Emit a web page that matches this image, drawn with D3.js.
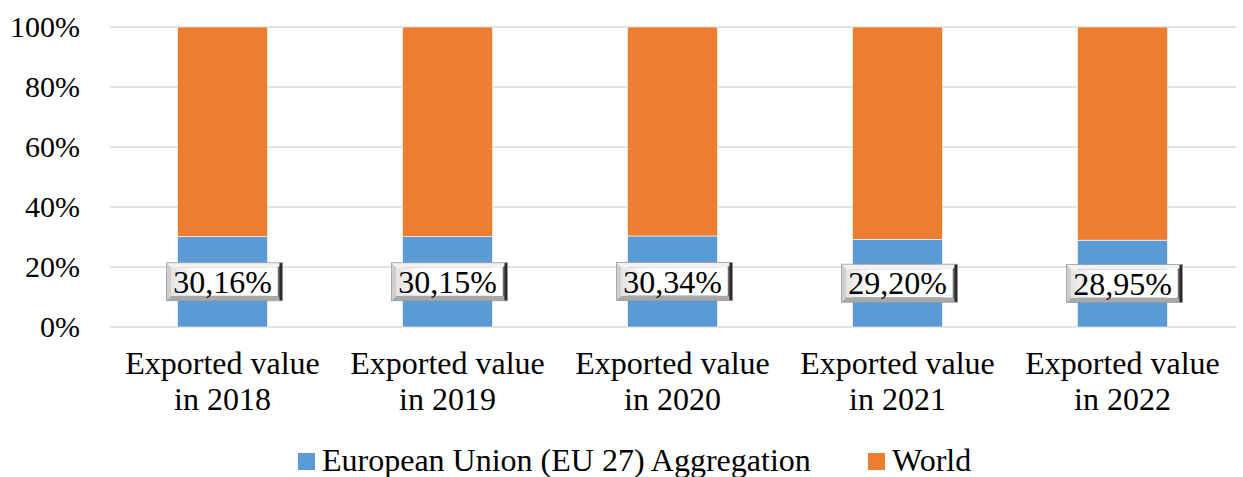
<!DOCTYPE html>
<html>
<head>
<meta charset="utf-8">
<script src="https://cdn.jsdelivr.net/npm/d3@7"></script>
<style>
  body { margin: 0; background: #fff; }
</style>
</head>
<body>
<svg id="chart" width="1243" height="477"></svg>
<script>
// datos del gráfico (porcentajes apilados)
var years = ["2018", "2019", "2020", "2021", "2022"];
var euShare = [30.16, 30.15, 30.34, 29.20, 28.95];
var worldShare = [69.84, 69.85, 69.66, 70.80, 71.05];
var yTicks = [0, 20, 40, 60, 80, 100];
var seriesNames = ["European Union (EU 27) Aggregation", "World"];
var seriesColors = ["#5b9bd5", "#ed7d31"];

var FONT = "'Liberation Serif', 'Times New Roman', Times, serif";
var svg = d3.select("#chart");
var x = d3.scaleBand().domain(years).range([110, 1235]).paddingInner(0.6).paddingOuter(0.3);
var y = d3.scaleLinear().domain([0, 100]).range([327, 27]);

// rejilla horizontal
svg.append("g").selectAll("line").data(yTicks).enter().append("line")
	.attr("x1", 110).attr("x2", 1236)
	.attr("y1", function(d) { return y(d); }).attr("y2", function(d) { return y(d); })
	.attr("stroke", "#d9d9d9").attr("stroke-width", 1.5);

// etiquetas del eje Y
svg.append("g").selectAll("text").data(yTicks).enter().append("text")
	.attr("x", 80).attr("y", function(d) { return y(d); })
	.attr("dy", "0.34em").attr("text-anchor", "end")
	.attr("font-family", FONT).attr("font-size", 30)
	.text(function(d) { return d + "%"; });

// barras apiladas
var rows = years.map(function(yr, i) { return {year: yr, eu: euShare[i], world: worldShare[i]}; });
var stack = d3.stack().keys(["eu", "world"])(rows);
svg.append("g").selectAll("g").data(stack).enter().append("g")
	.attr("fill", function(d, i) { return seriesColors[i]; })
	.selectAll("rect").data(function(d) { return d; }).enter().append("rect")
	.attr("x", function(d) { return x(d.data.year); })
	.attr("width", x.bandwidth())
	.attr("y", function(d) { return y(d[1]); })
	.attr("height", function(d) { return y(d[0]) - y(d[1]); })
	.attr("stroke", "#fff").attr("stroke-width", 0.6);

// etiquetas biseladas
var defs = svg.append("defs");
var face = defs.append("linearGradient").attr("id", "face").attr("x1", 0).attr("y1", 0).attr("x2", 1).attr("y2", 0);
face.append("stop").attr("offset", "0%").attr("stop-color", "#e4e4e4");
face.append("stop").attr("offset", "25%").attr("stop-color", "#ffffff");
face.append("stop").attr("offset", "100%").attr("stop-color", "#ffffff");

var bw = 116, bh = 38, bev = 5;
var labels = svg.append("g").selectAll("g").data(rows).enter().append("g")
	.attr("transform", function(d) {
		return "translate(" + (x(d.year) + x.bandwidth() / 2 - bw / 2 + 2) + "," + (y(d.eu / 2) - bh / 2) + ")";
	});
labels.append("polygon").attr("fill", "#f2f2f2")
	.attr("points", [[0,0],[bw,0],[bw-bev,bev],[bev,bev]].join(" "));
labels.append("polygon").attr("fill", "#cfcfcf")
	.attr("points", [[0,0],[bev,bev],[bev,bh-bev],[0,bh]].join(" "));
labels.append("polygon").attr("fill", "#a8a8a8")
	.attr("points", [[0,bh],[bev,bh-bev],[bw-bev,bh-bev],[bw,bh]].join(" "));
labels.append("polygon").attr("fill", "#6e6e6e")
	.attr("points", [[bw,0],[bw,bh],[bw-bev,bh-bev],[bw-bev,bev]].join(" "));
labels.append("rect").attr("x", bw - 3).attr("y", 0).attr("width", 3).attr("height", bh).attr("fill", "#2a2a2a");
labels.append("rect").attr("x", 0).attr("y", 0).attr("width", bw).attr("height", bh)
	.attr("fill", "none").attr("stroke", "#9a9a9a").attr("stroke-width", 0.8);
labels.append("rect").attr("x", bev).attr("y", bev).attr("width", bw - 2 * bev).attr("height", bh - 2 * bev)
	.attr("fill", "url(#face)");
labels.append("text")
	.attr("x", bw / 2 - 2).attr("y", bh / 2).attr("dy", "0.35em")
	.attr("text-anchor", "middle").attr("font-family", FONT).attr("font-size", 32)
	.text(function(d) { return d.eu.toFixed(2).replace(".", ",") + "%"; });

// etiquetas del eje X (dos líneas)
var xl = svg.append("g").selectAll("text").data(years).enter().append("text")
	.attr("text-anchor", "middle").attr("font-family", FONT).attr("font-size", 32)
	.attr("transform", function(d) { return "translate(" + (x(d) + x.bandwidth() / 2) + ",0)"; });
xl.append("tspan").attr("x", 0).attr("y", 374).text("Exported value");
xl.append("tspan").attr("x", 0).attr("y", 410).text(function(d) { return "in " + d; });

// leyenda
var legendX = [298, 868];
var lg = svg.append("g").selectAll("g").data(seriesNames).enter().append("g")
	.attr("transform", function(d, i) { return "translate(" + legendX[i] + ",453)"; });
lg.append("rect").attr("width", 17).attr("height", 17)
	.attr("fill", function(d, i) { return seriesColors[i]; });
lg.append("text").attr("x", 24).attr("y", 18).attr("font-family", FONT).attr("font-size", 32)
	.text(function(d) { return d; });
</script>
</body>
</html>
